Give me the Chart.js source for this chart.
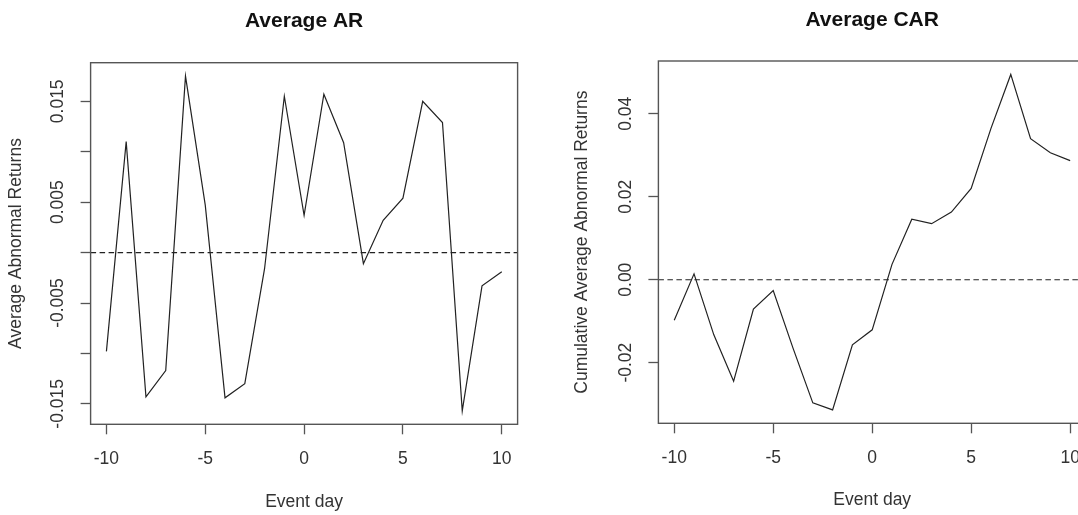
<!DOCTYPE html>
<html lang="en">
<head>
<meta charset="UTF-8">
<title>Average AR / Average CAR</title>
<script src="https://cdn.jsdelivr.net/npm/chart.js"></script>
<style>
  html, body { margin: 0; padding: 0; background: #fff; overflow: hidden; width: 1078px; height: 515px; }
  canvas { position: absolute; top: 0; }
  #arChart { left: 0; }
  #carChart { left: 539px; }
</style>
</head>
<body>
<canvas id="arChart" width="539" height="515"></canvas>
<canvas id="carChart" width="560" height="515"></canvas>
<script>
// event window
const eventDays = [-10, -9, -8, -7, -6, -5, -4, -3, -2, -1, 0, 1, 2, 3, 4, 5, 6, 7, 8, 9, 10];

// average abnormal returns
const avgAR = [-0.0098, 0.0110, -0.0143, -0.0117, 0.0175, 0.0047, -0.0144, -0.0130, -0.0016, 0.0155,
               0.0037, 0.0157, 0.0109, -0.0011, 0.0032, 0.0054, 0.0150, 0.0129, -0.0157, -0.0033, -0.0019];

// cumulative average abnormal returns
const avgCAR = [-0.0098, 0.0014, -0.0133, -0.0245, -0.0071, -0.0026, -0.0165, -0.0297, -0.0314, -0.0157,
                -0.0121, 0.0037, 0.0146, 0.0135, 0.0163, 0.0220, 0.0365, 0.0495, 0.0340, 0.0306, 0.0287];

const xTicks = [-10, -5, 0, 5, 10];
const arTicks = [-0.015, -0.010, -0.005, 0, 0.005, 0.010, 0.015];
const arTickLabels = ['-0.015', '', '-0.005', '', '0.005', '', '0.015'];
const carTicks = [-0.02, 0, 0.02, 0.04];
const carTickLabels = ['-0.02', '0.00', '0.02', '0.04'];

const FONT = "'Liberation Sans', Arial, sans-serif";
const AXIS_COL = '#555';
const TEXT_COL = '#333';

Chart.defaults.font.family = FONT;
Chart.defaults.color = TEXT_COL;

// R pads the data range by 4% on each side
function rRange(vals) {
    const lo = Math.min(...vals), hi = Math.max(...vals);
    const d = (hi - lo) * 0.04;
    return [lo - d, hi + d];
}

// box, dashed zero line and rotated y labels, base-graphics style
const rStyle = {
    id: 'rStyle',
    afterDatasetsDraw(chart, args, opts) {
        const { ctx, chartArea: a, scales: { y } } = chart;
        const y0 = y.getPixelForValue(0);
        ctx.save();
        ctx.strokeStyle = '#222';
        ctx.lineWidth = 1.1;
        ctx.setLineDash([5.5, 3.5]);
        ctx.beginPath();
        ctx.moveTo(a.left, y0);
        ctx.lineTo(a.right, y0);
        ctx.stroke();
        ctx.restore();
    },
    afterDraw(chart, args, opts) {
        const { ctx, chartArea: a, scales: { y } } = chart;
        ctx.save();
        ctx.strokeStyle = AXIS_COL;
        ctx.lineWidth = 1.4;
        ctx.strokeRect(a.left, a.top, a.right - a.left, a.bottom - a.top);

        ctx.fillStyle = TEXT_COL;
        ctx.font = '17.5px ' + FONT;
        ctx.textAlign = 'center';
        ctx.textBaseline = 'middle';
        opts.ticks.forEach((v, i) => {
            const label = opts.labels[i];
            if (!label) return;
            ctx.save();
            ctx.translate(a.left - opts.labelOffset, y.getPixelForValue(v));
            ctx.rotate(-Math.PI / 2);
            ctx.fillText(label, 0, 0);
            ctx.restore();
        });
        ctx.restore();
    }
};

function makeChart(id, cfg) {
    const [xMin, xMax] = rRange(eventDays);
    const [yMin, yMax] = rRange(cfg.values);
    return new Chart(document.getElementById(id), {
        type: 'line',
        data: {
            datasets: [{
                data: eventDays.map((d, i) => ({ x: d, y: cfg.values[i] })),
                borderColor: '#222',
                borderWidth: 1.2,
                pointRadius: 0,
                tension: 0,
                fill: false
            }]
        },
        options: {
            responsive: false,
            animation: false,
            events: [],
            layout: { padding: { left: 0, right: cfg.padRight, top: 0, bottom: 0 } },
            plugins: {
                legend: { display: false },
                tooltip: { enabled: false },
                title: {
                    display: true,
                    text: cfg.title,
                    fullSize: false,
                    color: '#111',
                    font: { size: 21, weight: 'bold', lineHeight: 1.2 },
                    padding: { top: cfg.titleTop, bottom: cfg.titleBottom }
                },
                rStyle: { ticks: cfg.yTicks, labels: cfg.yLabels, labelOffset: 32.5 }
            },
            scales: {
                x: {
                    type: 'linear',
                    min: xMin,
                    max: xMax,
                    afterBuildTicks: s => { s.ticks = xTicks.map(v => ({ value: v })); },
                    afterFit: s => { s.height = cfg.xHeight; },
                    grid: { drawOnChartArea: false, drawTicks: true, tickLength: 10, tickColor: AXIS_COL, tickWidth: 1.3 },
                    border: { display: false },
                    ticks: { padding: 14, color: TEXT_COL, font: { size: 17.5 }, maxRotation: 0, callback: v => String(v) },
                    title: { display: true, text: 'Event day', color: TEXT_COL, font: { size: 17.5, lineHeight: 1.2 }, padding: { top: 0, bottom: cfg.xTitlePad } }
                },
                y: {
                    type: 'linear',
                    min: yMin,
                    max: yMax,
                    afterBuildTicks: s => { s.ticks = cfg.yTicks.map(v => ({ value: v })); },
                    afterFit: s => { s.width = cfg.yWidth; },
                    grid: { drawOnChartArea: false, drawTicks: true, tickLength: 10, tickColor: AXIS_COL, tickWidth: 1.3 },
                    border: { display: false },
                    ticks: { color: 'rgba(0,0,0,0)', font: { size: 17.5 } },
                    title: { display: true, text: cfg.yTitle, color: TEXT_COL, font: { size: 17.5, lineHeight: 1.2 }, padding: { top: cfg.yTitlePad, bottom: 0 } }
                }
            }
        },
        plugins: [rStyle]
    });
}

makeChart('arChart', {
    title: 'Average AR',
    yTitle: 'Average Abnormal Returns',
    values: avgAR,
    yTicks: arTicks,
    yLabels: arTickLabels,
    padRight: 21.4,
    titleTop: 8.6,
    titleBottom: 28.9,
    xHeight: 90.7,
    xTitlePad: 2.8,
    yWidth: 90.6,
    yTitlePad: 5.5
});

makeChart('carChart', {
    title: 'Average CAR',
    yTitle: 'Cumulative Average Abnormal Returns',
    values: avgCAR,
    yTicks: carTicks,
    yLabels: carTickLabels,
    padRight: 13,
    titleTop: 7.9,
    titleBottom: 27.9,
    xHeight: 91.7,
    xTitlePad: 4.5,
    yWidth: 119.4,
    yTitlePad: 32.2
});
</script>
</body>
</html>
